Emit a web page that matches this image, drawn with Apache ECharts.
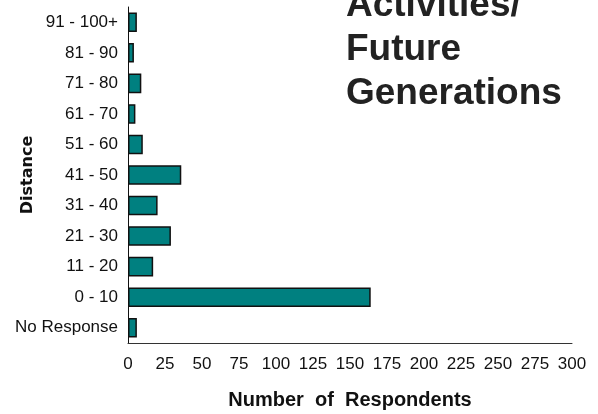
<!DOCTYPE html>
<html>
<head>
<meta charset="utf-8">
<script src="https://cdn.jsdelivr.net/npm/echarts@6/dist/echarts.min.js"></script>
<style>
html,body{margin:0;padding:0;background:#fff;}
#chart{width:598px;height:414px;}
</style>
</head>
<body>
<div id="chart"></div>
<script>
// Categories listed bottom to top
var categories = ['No Response', '0 - 10', '11 - 20', '21 - 30', '31 - 40', '41 - 50', '51 - 60', '61 - 70', '71 - 80', '81 - 90', '91 - 100+'];
var respondents = [6, 164, 17, 29, 20, 36, 10, 5, 9, 4, 6];
var xTicks = [0, 25, 50, 75, 100, 125, 150, 175, 200, 225, 250, 275, 300];
var titleLines = ['Activities/', 'Future', 'Generations'];
var xAxisTitle = 'Number  of  Respondents';
var yAxisTitle = 'Distance';

var chart = echarts.init(document.getElementById('chart'), null, {renderer: 'canvas'});
chart.setOption({
  animation: false,
  backgroundColor: '#ffffff',
  title: {
    text: titleLines.join('\n'),
    left: 346,
    top: -16,
    padding: 0,
    textStyle: {
      fontFamily: 'Liberation Sans, Arial, sans-serif',
      fontWeight: 'bold',
      fontSize: 37,
      lineHeight: 44,
      color: '#222222'
    }
  },
  grid: {left: 128, right: 26, top: 7, bottom: 71, containLabel: false, outerBoundsMode: 'none'},
  xAxis: {
    type: 'value',
    min: xTicks[0],
    max: xTicks[xTicks.length - 1],
    interval: 25,
    splitLine: {show: false},
    axisTick: {show: false},
    axisLine: {show: true, lineStyle: {color: '#333333', width: 1}},
    axisLabel: {
      margin: 13,
      fontFamily: 'Liberation Sans, Arial, sans-serif',
      fontSize: 17,
      color: '#111111'
    },
    name: xAxisTitle,
    nameLocation: 'middle',
    nameGap: 47,
    nameMoveOverlap: false,
    nameTextStyle: {
      fontFamily: 'Liberation Sans, Arial, sans-serif',
      fontWeight: 'bold',
      fontSize: 20,
      color: '#111111'
    }
  },
  yAxis: {
    type: 'category',
    data: categories,
    axisTick: {show: false},
    axisLine: {show: true, lineStyle: {color: '#111111', width: 1}},
    axisLabel: {
      margin: 10,
      fontFamily: 'Liberation Sans, Arial, sans-serif',
      fontSize: 17,
      color: '#111111'
    },
    name: yAxisTitle,
    nameLocation: 'middle',
    nameRotate: 90,
    nameGap: 92,
    nameMoveOverlap: false,
    nameTextStyle: {
      fontFamily: 'DejaVu Sans, sans-serif',
      fontWeight: 'bold',
      fontSize: 16,
      color: '#111111'
    }
  },
  series: [{
    type: 'bar',
    data: respondents,
    barCategoryGap: '36%',
    itemStyle: {
      color: '#008080',
      borderColor: '#111111',
      borderWidth: 1.5
    }
  }]
});
</script>
</body>
</html>
